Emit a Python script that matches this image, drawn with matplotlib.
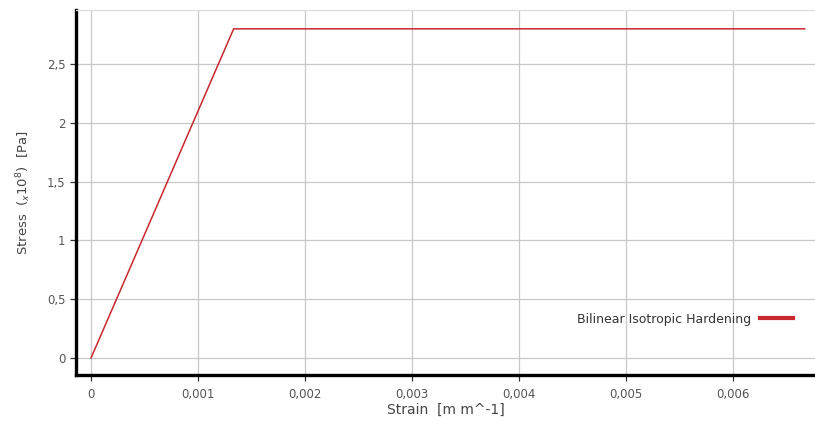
import matplotlib
matplotlib.use('Agg')
import matplotlib.pyplot as plt
from matplotlib.ticker import FuncFormatter

# bilinear isotropic hardening curve (stress in 1e8 Pa)
strain = [0.0, 0.001333, 0.00667]
stress = [0.0, 2.8, 2.8]
series_name = 'Bilinear Isotropic Hardening'

x_ticks = [0, 0.001, 0.002, 0.003, 0.004, 0.005, 0.006]
y_ticks = [0, 0.5, 1, 1.5, 2, 2.5]


def comma(v, pos):
    s = ('%.3f' % v).rstrip('0').rstrip('.')
    if s in ('-0', ''):
        s = '0'
    return s.replace('.', ',')


fig = plt.figure(figsize=(8.15, 4.25), dpi=100)
ax = fig.add_axes([0.0933, 0.1176, 0.9067, 0.8588])

ax.plot(strain, stress, color='#c8282e', linewidth=1.1, label=series_name)

ax.set_xlim(-0.00014, 0.006766)
ax.set_ylim(-0.145, 2.96)
ax.set_xticks(x_ticks)
ax.set_yticks(y_ticks)
ax.xaxis.set_major_formatter(FuncFormatter(comma))
ax.yaxis.set_major_formatter(FuncFormatter(comma))

ax.grid(True, color='#c8c8c8', linewidth=0.9)
ax.set_axisbelow(True)

for side in ['left', 'bottom']:
    ax.spines[side].set_color('black')
    ax.spines[side].set_linewidth(2.4)
ax.spines['right'].set_visible(False)
ax.spines['top'].set_color('#dddddd')
ax.spines['top'].set_linewidth(0.9)

ax.tick_params(axis='both', colors='#333333', labelcolor='#555555',
               labelsize=8.5, length=4, width=0.9, direction='out')
ax.tick_params(axis='x', pad=5)

ax.set_xlabel('Strain  [m m^-1]', fontsize=10, color='#444444', labelpad=2)
ax.set_ylabel('Stress  ($_{x}$10$^{8}$)  [Pa]', fontsize=9.5, color='#444444', labelpad=10)

leg = ax.legend(loc='center right', bbox_to_anchor=(0.985, 0.153), frameon=False,
                markerfirst=False, fontsize=9, handlelength=2.6, handletextpad=0.7)
for t in leg.get_texts():
    t.set_color('#333333')
for h in leg.get_lines():
    h.set_linewidth(3)

fig.savefig('out.png', dpi=100)
